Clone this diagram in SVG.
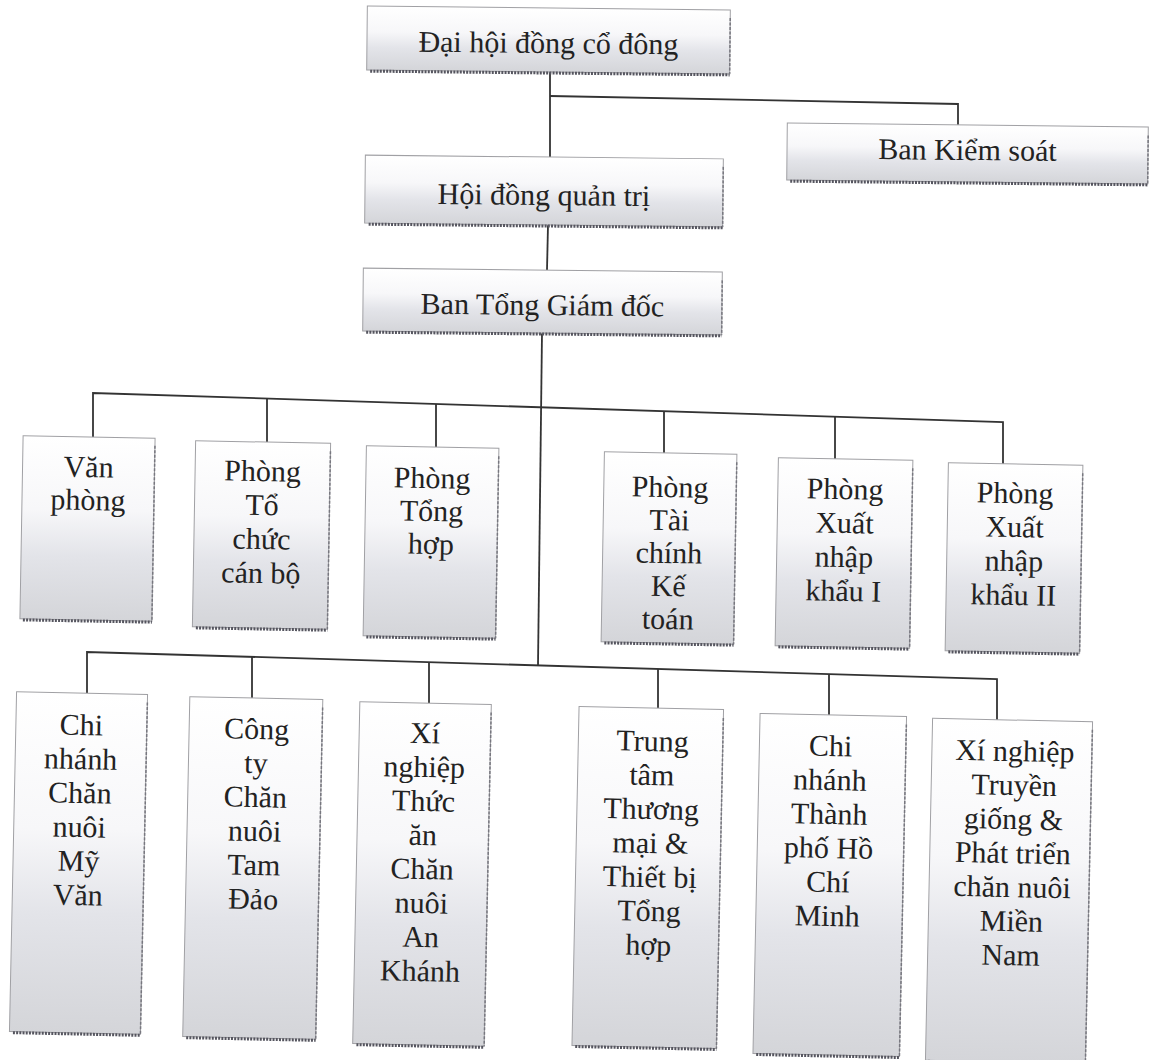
<svg xmlns="http://www.w3.org/2000/svg" width="1151" height="1060" viewBox="0 0 1151 1060">
<defs>
<linearGradient id="g" x1="0" y1="0" x2="0" y2="1">
<stop offset="0" stop-color="#ffffff"/>
<stop offset="0.4" stop-color="#f7f7f9"/>
<stop offset="0.65" stop-color="#e3e4e9"/>
<stop offset="1" stop-color="#d4d5d9"/>
</linearGradient>
<style>
.box{fill:url(#g);stroke:#a0a0a4;stroke-width:1}
.sb{stroke:#55555f;stroke-width:3;stroke-dasharray:2 1.2;fill:none}
.sr{stroke:#77777f;stroke-width:1.5;stroke-dasharray:3 1.5;fill:none}
.t{font-family:"Liberation Serif","Times New Roman",serif;font-size:30px;fill:#222;text-anchor:middle}
.c{stroke:#333;stroke-width:1.8;fill:none}
</style>
</defs>
<rect width="1151" height="1060" fill="#ffffff"/>
<g id="connectors">
<polyline class="c" points="550,72 550,157"/>
<polyline class="c" points="550,96 958,104 958,125"/>
<polyline class="c" points="548,225 547,270"/>
<polyline class="c" points="542,333 538,665"/>
<polyline class="c" points="93,437 93,393 1003,422 1003,464"/>
<line class="c" x1="267" y1="398.5" x2="267" y2="442"/>
<line class="c" x1="436" y1="404" x2="436" y2="447"/>
<line class="c" x1="664" y1="411" x2="664" y2="453"/>
<line class="c" x1="835" y1="416.5" x2="835" y2="459"/>
<polyline class="c" points="87,693 87,652 997,679 997,720"/>
<line class="c" x1="252" y1="657" x2="252" y2="698"/>
<line class="c" x1="429" y1="662" x2="429" y2="703"/>
<line class="c" x1="658" y1="669" x2="658" y2="708"/>
<line class="c" x1="829" y1="674" x2="829" y2="715"/>
</g>

<g id="dai-hoi" transform="translate(548.5 40) rotate(0.6)">
<rect class="box" x="-181.5" y="-32" width="363" height="64"/>
<line class="sb" x1="-178" y1="33" x2="181.5" y2="33"/>
<line class="sr" x1="181.5" y1="-24" x2="181.5" y2="32"/>
<text class="t" x="0" y="13">Đại hội đồng cổ đông</text>
</g>
<g id="ban-kiem-soat" transform="translate(967.5 153.5) rotate(0.6)">
<rect class="box" x="-180.5" y="-28.5" width="361" height="57"/>
<line class="sb" x1="-177" y1="29.5" x2="180.5" y2="29.5"/>
<line class="sr" x1="180.5" y1="-20" x2="180.5" y2="28.5"/>
<text class="t" x="0" y="6.5">Ban Kiểm soát</text>
</g>
<g id="hoi-dong" transform="translate(544 191) rotate(0.6)">
<rect class="box" x="-179" y="-34" width="358" height="68"/>
<line class="sb" x1="-175" y1="35" x2="179" y2="35"/>
<line class="sr" x1="179" y1="-26" x2="179" y2="34"/>
<text class="t" x="0" y="14">Hội đồng quản trị</text>
</g>
<g id="ban-tong" transform="translate(542.5 301.5) rotate(0.6)">
<rect class="box" x="-179.5" y="-31.5" width="359" height="63"/>
<line class="sb" x1="-176" y1="32.5" x2="179.5" y2="32.5"/>
<line class="sr" x1="179.5" y1="-23" x2="179.5" y2="31.5"/>
<text class="t" x="0" y="13.5">Ban Tổng Giám đốc</text>
</g>

<g id="van-phong" transform="translate(87.5 528.5) rotate(1)">
<rect class="box" x="-66" y="-91.5" width="132" height="183"/>
<line class="sb" x1="-63" y1="92.5" x2="66" y2="92.5"/>
<line class="sr" x1="66" y1="-84" x2="66" y2="91.5"/>
<text class="t"><tspan x="0" y="-51.5">Văn</tspan><tspan x="0" y="-18.5">phòng</tspan></text>
</g>
<g id="to-chuc" transform="translate(261.5 535) rotate(1)">
<rect class="box" x="-67.5" y="-93" width="135" height="186"/>
<line class="sb" x1="-64" y1="94" x2="67.5" y2="94"/>
<line class="sr" x1="67.5" y1="-85" x2="67.5" y2="93"/>
<text class="t"><tspan x="0" y="-54">Phòng</tspan><tspan x="0" y="-20">Tổ</tspan><tspan x="0" y="14">chức</tspan><tspan x="0" y="48">cán bộ</tspan></text>
</g>
<g id="tong-hop" transform="translate(431 542) rotate(1)">
<rect class="box" x="-66.25" y="-95" width="132.5" height="190"/>
<line class="sb" x1="-63" y1="96" x2="66.25" y2="96"/>
<line class="sr" x1="66.25" y1="-87" x2="66.25" y2="95"/>
<text class="t"><tspan x="0" y="-54">Phòng</tspan><tspan x="0" y="-21">Tổng</tspan><tspan x="0" y="12">hợp</tspan></text>
</g>
<g id="tai-chinh" transform="translate(669 548) rotate(1)">
<rect class="box" x="-66.25" y="-95" width="132.5" height="190"/>
<line class="sb" x1="-63" y1="96" x2="66.25" y2="96"/>
<line class="sr" x1="66.25" y1="-87" x2="66.25" y2="95"/>
<text class="t"><tspan x="0" y="-51">Phòng</tspan><tspan x="0" y="-18">Tài</tspan><tspan x="0" y="15">chính</tspan><tspan x="0" y="48">Kế</tspan><tspan x="0" y="81">toán</tspan></text>
</g>
<g id="xnk-1" transform="translate(844 553) rotate(1)">
<rect class="box" x="-67.25" y="-94" width="134.5" height="188"/>
<line class="sb" x1="-64" y1="95" x2="67.25" y2="95"/>
<line class="sr" x1="67.25" y1="-86" x2="67.25" y2="94"/>
<text class="t"><tspan x="0" y="-54">Phòng</tspan><tspan x="0" y="-20">Xuất</tspan><tspan x="0" y="14">nhập</tspan><tspan x="0" y="48">khẩu I</tspan></text>
</g>
<g id="xnk-2" transform="translate(1014 558) rotate(1)">
<rect class="box" x="-67.25" y="-94" width="134.5" height="188"/>
<line class="sb" x1="-64" y1="95" x2="67.25" y2="95"/>
<line class="sr" x1="67.25" y1="-86" x2="67.25" y2="94"/>
<text class="t"><tspan x="0" y="-55">Phòng</tspan><tspan x="0" y="-21">Xuất</tspan><tspan x="0" y="13">nhập</tspan><tspan x="0" y="47">khẩu II</tspan></text>
</g>

<g id="cn-my-van" transform="translate(78.5 863) rotate(1.2)">
<rect class="box" x="-65.5" y="-170" width="131" height="340"/>
<line class="sb" x1="-62" y1="171" x2="65.5" y2="171"/>
<line class="sr" x1="65.5" y1="-162" x2="65.5" y2="170"/>
<text class="t"><tspan x="0" y="-128">Chi</tspan><tspan x="0" y="-94">nhánh</tspan><tspan x="0" y="-60">Chăn</tspan><tspan x="0" y="-26">nuôi</tspan><tspan x="0" y="8">Mỹ</tspan><tspan x="0" y="42">Văn</tspan></text>
</g>
<g id="cty-tam-dao" transform="translate(252.75 868) rotate(1.2)">
<rect class="box" x="-66.5" y="-170" width="133" height="340"/>
<line class="sb" x1="-63" y1="171" x2="66.5" y2="171"/>
<line class="sr" x1="66.5" y1="-162" x2="66.5" y2="170"/>
<text class="t"><tspan x="1" y="-129">Công</tspan><tspan x="1" y="-95">ty</tspan><tspan x="1" y="-61">Chăn</tspan><tspan x="1" y="-27">nuôi</tspan><tspan x="1" y="7">Tam</tspan><tspan x="1" y="41">Đảo</tspan></text>
</g>
<g id="xn-an-khanh" transform="translate(422 874) rotate(1.2)">
<rect class="box" x="-65.75" y="-171" width="131.5" height="342"/>
<line class="sb" x1="-62" y1="172" x2="65.75" y2="172"/>
<line class="sr" x1="65.75" y1="-163" x2="65.75" y2="171"/>
<text class="t"><tspan x="0" y="-131">Xí</tspan><tspan x="0" y="-97">nghiệp</tspan><tspan x="0" y="-63">Thức</tspan><tspan x="0" y="-29">ăn</tspan><tspan x="0" y="5">Chăn</tspan><tspan x="0" y="39">nuôi</tspan><tspan x="0" y="73">An</tspan><tspan x="0" y="107">Khánh</tspan></text>
</g>
<g id="tt-thuong-mai" transform="translate(647.75 877.5) rotate(1.2)">
<rect class="box" x="-72.25" y="-169.5" width="144.5" height="339"/>
<line class="sb" x1="-69" y1="170.5" x2="72.25" y2="170.5"/>
<line class="sr" x1="72.25" y1="-161" x2="72.25" y2="169.5"/>
<text class="t"><tspan x="2" y="-126.5">Trung</tspan><tspan x="2" y="-92.5">tâm</tspan><tspan x="2" y="-58.5">Thương</tspan><tspan x="2" y="-24.5">mại &amp;</tspan><tspan x="2" y="9.5">Thiết bị</tspan><tspan x="2" y="43.5">Tổng</tspan><tspan x="2" y="77.5">hợp</tspan></text>
</g>
<g id="cn-hcm" transform="translate(829.75 885) rotate(1.2)">
<rect class="box" x="-73.25" y="-170" width="146.5" height="340"/>
<line class="sb" x1="-70" y1="171" x2="73.25" y2="171"/>
<line class="sr" x1="73.25" y1="-162" x2="73.25" y2="170"/>
<text class="t"><tspan x="-2" y="-129">Chi</tspan><tspan x="-2" y="-95">nhánh</tspan><tspan x="-2" y="-61">Thành</tspan><tspan x="-2" y="-27">phố Hồ</tspan><tspan x="-2" y="7">Chí</tspan><tspan x="-2" y="41">Minh</tspan></text>
</g>
<g id="xn-mien-nam" transform="translate(1009 891) rotate(1.2)">
<rect class="box" x="-80" y="-171" width="160" height="342"/>
<line class="sb" x1="-77" y1="172" x2="80" y2="172"/>
<line class="sr" x1="80" y1="-163" x2="80" y2="171"/>
<text class="t"><tspan x="3" y="-130">Xí nghiệp</tspan><tspan x="3" y="-96">Truyền</tspan><tspan x="3" y="-62">giống &amp;</tspan><tspan x="3" y="-28">Phát triển</tspan><tspan x="3" y="6">chăn nuôi</tspan><tspan x="3" y="40">Miền</tspan><tspan x="3" y="74">Nam</tspan></text>
</g>
</svg>
